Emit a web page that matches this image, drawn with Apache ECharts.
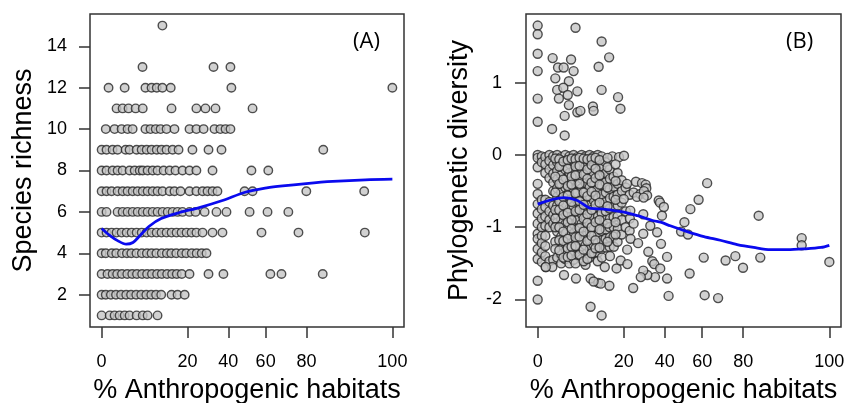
<!DOCTYPE html>
<html>
<head>
<meta charset="utf-8">
<script src="https://cdn.jsdelivr.net/npm/echarts@6/dist/echarts.min.js"></script>
<style>html,body{margin:0;padding:0;background:#fff;}#c{width:846px;height:403px;}</style>
</head>
<body>
<div id="c"></div>
<script>
// ---------- Data (x = % anthropogenic habitats) ----------
const xTicks = [0, 20, 40, 60, 80, 100];
const yTicksA = [2, 4, 6, 8, 10, 12, 14];
const yTicksB = [-2, -1, 0, 1];

// Panel A: species richness rows (value -> list of % anthropogenic habitats)
const richness15 = [10.4];
const richness13 = [4.8, 32.3, 41.1];
const richness12 = [0.14, 1.54, 5.5, 7.1, 8.6, 10.4, 13.3, 41.6, 100];
const richness11 = [0.65, 1.28, 2.1, 3.34, 4.85, 13.6, 24, 28.3, 33.3, 53];
const richness10 = [0.05, 0.49, 1.16, 1.95, 2.78, 5.5, 6.8, 8.3, 9.8, 11.8, 14.7, 20.9, 24, 27.4, 32.8, 35.8, 38.5, 41.1];
const richness9 = [0, 0.07, 0.35, 0.74, 1.67, 2.26, 3.53, 4.6, 5.8, 7.1, 8.6, 10.1, 11.8, 14, 16.3, 22.2, 29.8, 36.4, 86.7];
const richness8 = [0, 0.07, 0.35, 0.74, 1.28, 2.26, 3.15, 4.17, 4.85, 6.04, 7.4, 8.85, 10.8, 12.9, 15.1, 17.9, 20.9, 24, 31.8, 52.4, 61.4];
const richness7 = [0, 0.07, 0.29, 0.74, 1.28, 1.95, 2.78, 3.74, 4.85, 6.04, 7.4, 8.85, 10.45, 12.9, 14.7, 17.1, 20.9, 24, 26.9, 29.3, 31.8, 34.3, 48.7, 53, 79.9, 97.7];
const richness6 = [0, 0.07, 0.74, 1.28, 1.95, 2.78, 3.74, 4.85, 6.04, 7.4, 8.85, 10.45, 12.2, 14, 15.9, 17.9, 20.9, 23.6, 27.9, 33.8, 39, 51.4, 61, 71.6];
const richness5 = [0, 0.07, 0.29, 0.65, 1.16, 1.81, 2.6, 3.53, 4.61, 5.8, 7.12, 8.56, 10.1, 11.8, 13.6, 15.5, 17.5, 19.6, 21.8, 24, 26.9, 31.8, 36.9, 57.8, 76.4, 97.8];
const richness4 = [0, 0.05, 0.3, 0.62, 1.2, 1.85, 2.55, 3.5, 4.65, 5.85, 7.1, 8.5, 10.2, 11.9, 13.5, 15.4, 17.6, 19.5, 21.9, 24.1, 26.5, 28.8];
const richness3 = [0, 0.1, 0.35, 0.7, 1.2, 1.9, 2.7, 3.6, 4.7, 5.9, 7.2, 8.7, 10.2, 12, 13.8, 15.6, 17.6, 20.9, 29.8, 37.4, 62.5, 68.2, 86.5];
const richness2 = [0, 0.05, 0.25, 0.6, 1.1, 1.75, 2.5, 3.45, 4.5, 5.7, 7, 8.4, 10, 13.6, 15.9, 18.8];
const richness1 = [0, 0.19, 0.49, 0.94, 1.54, 2.26, 3.53, 4.85, 6.04, 8.85];

// Panel A smoother
const loessAPct = [0, 0.19, 0.78, 1.75, 2.84, 4.17, 6.55, 10, 16.7, 25.4, 36.9, 49, 60.6, 68.8, 79.8, 90, 97.9, 100];
const loessAVal = [5.2, 4.87, 4.6, 4.44, 4.52, 4.84, 5.32, 5.68, 5.97, 6.21, 6.55, 6.95, 7.16, 7.26, 7.37, 7.47, 7.55, 7.58];

// Panel B: phylogenetic diversity points [% anthropogenic, PD]
const pdAbove = [[0,1.79],[0,1.67],[4.1,1.76],[11.4,1.57],[14.1,1.35],[0,1.40],[0.65,1.34],[3.2,1.32],[0,1.16],[1.2,1.21],[1.95,1.21],[3.7,1.16],[10.4,1.22],[0.9,1.06],[2.8,1.02],[1.1,0.90],[1.9,0.93],[2.6,0.83],[4.5,0.88],[1.3,0.78],[11.4,0.90],[17.6,0.80],[0,0.78],[2.8,0.69],[4.5,0.59],[5.2,0.61],[8.6,0.67],[8.8,0.61],[18.6,0.64],[2.1,0.54],[0,0.46],[0.6,0.36],[2.1,0.27]];
const pdCore = [
 [0,0],[0,-0.04],[0,-0.17],[0,-0.40],[0,-0.54],[0,-0.68],[0,-0.81],[0,-0.95],[0,-1.09],[0,-1.16],[0,-1.30],[0,-1.44],
 [0.05,-0.02],[0.05,-0.10],[0.05,-0.62],[0.05,-0.75],[0.05,-0.88],[0.05,-1.00],[0.05,-1.12],[0.05,-1.22],[0.05,-1.35],[0.05,-1.48],
 [0.17,-0.03],[0.17,-0.13],[0.17,-0.25],[0.17,-0.62],[0.17,-0.72],[0.17,-0.85],[0.17,-0.98],[0.17,-1.12],[0.17,-1.26],[0.17,-1.40],[0.19,-1.55],
 [0.4,0],[0.4,-0.08],[0.4,-0.20],[0.4,-0.32],[0.4,-0.65],[0.4,-0.78],[0.4,-0.90],[0.4,-1.00],[0.4,-1.47],
 [0.7,-0.02],[0.7,-0.14],[0.7,-0.26],[0.7,-0.38],[0.7,-0.50],[0.7,-0.70],[0.7,-0.83],[0.7,-0.95],[0.7,-1.45],[0.62,-1.55],
 [1.1,0],[1.1,-0.10],[1.1,-0.22],[1.1,-0.34],[1.1,-0.46],[1.1,-0.58],[1.1,-0.70],[1.1,-0.82],[1.1,-0.94],[1.1,-1.06],[1.1,-1.42],
 [1.6,-0.03],[1.6,-0.15],[1.6,-0.28],[1.6,-0.40],[1.6,-0.52],[1.6,-0.64],[1.6,-0.77],[1.6,-0.89],[1.6,-1.01],[1.6,-1.13],[1.6,-1.25],[1.6,-1.37],[1.6,-1.50],
 [2.2,0],[2.3,-0.08],[2.2,-0.20],[2.3,-0.33],[2.2,-0.45],[2.3,-0.57],[2.2,-0.70],[2.3,-0.82],[2.2,-0.96],[2.3,-1.08],[2.2,-1.20],[2.3,-1.32],[2.2,-1.44],[2.0,-1.66],
 [2.9,-0.02],[3.0,-0.13],[2.9,-0.25],[3.0,-0.37],[2.9,-0.50],[3.0,-0.62],[2.9,-0.74],[3.0,-0.86],[2.9,-0.99],[3.0,-1.11],[2.9,-1.23],[3.0,-1.36],[2.9,-1.50],
 [3.7,0],[3.8,-0.10],[3.7,-0.22],[3.8,-0.34],[3.7,-0.47],[3.8,-0.59],[3.7,-0.71],[3.8,-0.84],[3.7,-0.96],[3.8,-1.08],[3.7,-1.20],[3.8,-1.33],[3.7,-1.45],
 [4.5,-0.03],[4.6,-0.16],[4.5,-0.28],[4.6,-0.40],[4.5,-0.52],[4.6,-0.65],[4.5,-0.77],[4.6,-0.90],[4.5,-1.02],[4.6,-1.14],[4.5,-1.27],[4.6,-1.39],[4.2,-1.71],
 [5.5,0],[5.6,-0.09],[5.5,-0.21],[5.6,-0.33],[5.5,-0.46],[5.6,-0.58],[5.5,-0.70],[5.6,-0.82],[5.5,-0.95],[5.6,-1.07],[5.5,-1.19],[5.6,-1.32],[5.5,-1.44],
 [6.5,-0.02],[6.6,-0.14],[6.5,-0.26],[6.6,-0.39],[6.5,-0.51],[6.6,-0.63],[6.5,-0.76],[6.6,-0.88],[6.5,-1.00],[6.6,-1.12],[6.5,-1.25],[6.6,-1.37],[6.5,-1.52],
 [7.6,0],[7.7,-0.08],[7.6,-0.20],[7.7,-0.32],[7.6,-0.45],[7.7,-0.57],[7.6,-0.70],[7.7,-0.82],[7.6,-0.94],[7.7,-1.06],[7.6,-1.18],[7.7,-1.30],[7.6,-1.42],[7.9,-1.71],
 [8.8,-0.02],[8.9,-0.13],[8.8,-0.26],[8.9,-0.38],[8.8,-0.50],[8.9,-0.63],[8.8,-0.75],[8.9,-0.87],[8.8,-1.00],[8.9,-1.12],[8.8,-1.24],[8.9,-1.36],
 [10.1,0],[10.2,-0.10],[10.1,-0.22],[10.2,-0.35],[10.1,-0.47],[10.2,-0.60],[10.1,-0.72],[10.2,-0.85],[10.1,-0.97],[10.2,-1.10],[10.1,-1.22],[10.2,-1.35],[10.1,-1.47],[10.3,-1.77],
 [11.4,-0.02],[11.5,-0.16],[11.4,-0.30],[11.5,-0.42],[11.4,-0.55],[11.5,-0.68],[11.4,-0.80],[11.5,-0.93],[11.4,-1.05],[11.5,-1.18],[11.4,-1.30],[11.5,-1.42],
 [12.8,-0.10],[12.9,-0.25],[12.8,-0.38],[12.9,-0.52],[12.8,-0.65],[12.9,-0.78],[12.8,-0.90],[12.9,-1.03],[12.8,-1.16],[12.9,-1.28],[12.5,-1.55],
 [14.3,-0.20],[14.4,-0.33],[14.3,-0.47],[14.4,-0.60],[14.3,-0.74],[14.4,-0.88],[14.3,-1.00],[14.4,-1.14],[14.3,-1.27],[14.4,-1.40],[14.2,-1.81],
 [15.3,-0.02],[15.8,-0.30],[15.9,-0.44],[15.8,-0.58],[15.9,-0.72],[15.8,-0.86],[15.9,-1.00],[15.8,-1.13],[15.9,-1.27],
 [18.0,-0.03],[17.4,-0.25],[17.5,-0.40],[17.4,-0.55],[17.5,-0.70],[17.4,-0.85],[17.5,-1.02],[17.4,-1.20],[17.0,-1.57],
 [20.1,-0.01],[19.1,-0.35],[19.2,-0.50],[19.1,-0.66],[19.2,-0.90],[19.1,-1.10],[18.7,-1.46],
 [20.8,-0.45],[20.9,-0.78],[20.8,-1.00],[21.6,-1.51],[22.6,-0.55],[22.7,-0.88],[22.6,-1.05]
];
const pdCoreFill = [
 [0.9,-0.05],[0.9,-0.30],[0.9,-0.52],[0.9,-0.76],[0.9,-0.88],[0.9,-1.00],[0.9,-1.20],[0.9,-1.30],
 [1.35,-0.06],[1.35,-0.16],[1.35,-0.40],[1.35,-0.64],[1.35,-0.76],[1.35,-1.00],[1.35,-1.18],[1.35,-1.32],
 [1.9,-0.09],[1.9,-0.34],[1.9,-0.58],[1.9,-0.70],[1.9,-0.83],[1.9,-1.06],[1.9,-1.19],[1.9,-1.42],
 [2.6,-0.07],[2.6,-0.19],[2.6,-0.43],[2.6,-0.56],[2.6,-0.80],[2.6,-0.93],[2.6,-1.16],[2.6,-1.29],[2.6,-1.41],
 [3.3,-0.05],[3.3,-0.30],[3.3,-0.41],[3.3,-0.65],[3.3,-0.90],[3.3,-1.02],[3.3,-1.27],[3.3,-1.39],
 [4.1,-0.06],[4.1,-0.16],[4.1,-0.28],[4.1,-0.53],[4.1,-0.78],[4.1,-1.14],[4.1,-1.26],[4.1,-1.50],
 [5.0,-0.04],[5.0,-0.15],[5.0,-0.40],[5.0,-0.64],[5.0,-0.76],[5.0,-1.01],[5.0,-1.13],[5.0,-1.38],
 [6.0,-0.05],[6.0,-0.27],[6.0,-0.52],[6.0,-0.69],[6.0,-0.88],[6.0,-1.06],[6.0,-1.31],[6.0,-1.47],
 [7.0,-0.06],[7.0,-0.20],[7.0,-0.33],[7.0,-0.57],[7.0,-0.82],[7.0,-0.94],[7.0,-1.19],[7.0,-1.44],
 [8.2,-0.05],[8.2,-0.14],[8.2,-0.38],[8.2,-0.51],[8.2,-0.76],[8.2,-1.00],[8.2,-1.12],[8.2,-1.36],
 [9.4,-0.04],[9.4,-0.19],[9.4,-0.32],[9.4,-0.56],[9.4,-0.69],[9.4,-0.93],[9.4,-1.18],[9.4,-1.29],
 [10.7,-0.07],[10.7,-0.28],[10.7,-0.41],[10.7,-0.66],[10.7,-0.90],[10.7,-1.03],[10.7,-1.28],
 [13.5,-0.04],[13.5,-0.17],[13.5,-0.45],[13.5,-0.71],[13.5,-0.95],[13.5,-1.20],
 [16.6,-0.13],[16.6,-0.36],[16.6,-0.62],[16.6,-0.93],[16.6,-1.10]
];
const pdSpread = [[21.4,-0.40],[25.5,-0.37],[28.4,-0.39],[30.2,-0.41],[30.5,-0.46],[24.4,-0.52],[27.6,-0.54],[29.3,-0.50],[30.9,-0.56],[26.0,-0.58],[29.2,-0.59],[20.0,-0.61],[36.8,-0.63],[37.5,-0.66],[39.5,-0.72],[38.5,-0.84],[29.0,-0.82],[24.4,-0.95],[22.9,-0.77],[32.5,-0.98],[50.5,-0.93],[53.7,-0.75],[58.1,-0.62],[62.6,-0.39],[86.2,-0.84],
 [48.7,-1.06],[52.4,-1.10],[36.0,-1.07],[29.0,-1.09],[23.0,-1.16],[26.5,-1.22],[21.5,-1.31],[31.5,-1.34],[38.0,-1.23],[41.2,-1.41],[33.5,-1.47],[34.5,-1.51],[37.6,-1.57],[41.2,-1.71],[34.9,-1.69],[31.0,-1.66],[29.0,-1.60],[27.8,-1.69],[24.2,-1.84],[42.0,-1.95],[53.3,-1.64],[60.8,-1.42]];
const pdFar = [[97.8,-1.15],[97.8,-1.25],[100,-1.48],[71.9,-1.46],[76.5,-1.40],[79.9,-1.56],[86.8,-1.42],[61.3,-1.94],[68.2,-1.98]];
const pdLow = [[0,-1.74],[0,-2.00],[7.9,-2.10],[11.4,-2.22],[0.19,-1.55],[11.1,-1.78],[8.8,-1.75]];

// Panel B smoother
const loessBPct = [0, 1.98, 4.5, 7.9, 12.1, 16, 21.4, 26.2, 34.1, 37.8, 42.9, 52, 60.9, 69.3, 77.3, 84.3, 90.3, 95, 98.1, 99.8, 100];
const loessBVal = [-0.68, -0.59, -0.63, -0.74, -0.75, -0.77, -0.80, -0.84, -0.91, -0.93, -0.98, -1.06, -1.13, -1.18, -1.24, -1.28, -1.31, -1.31, -1.30, -1.28, -1.25];

// ---------- Build ----------
const asinSqrt = p => Math.asin(Math.sqrt(p / 100));
const HALF_PI = Math.PI / 2;
const X_MIN = -0.04 * HALF_PI, X_MAX = 1.04 * HALF_PI;
const FONT = '"Liberation Sans", Arial, Helvetica, sans-serif';

const richRows = [[1,richness1],[2,richness2],[3,richness3],[4,richness4],[5,richness5],[6,richness6],[7,richness7],[8,richness8],[9,richness9],[10,richness10],[11,richness11],[12,richness12],[13,richness13],[15,richness15]];
const dataA = [];
richRows.forEach(([v, arr]) => arr.forEach(p => dataA.push([asinSqrt(p), v])));
const dataB = [].concat(pdCore, pdCoreFill, pdAbove, pdSpread, pdFar, pdLow).map(d => [asinSqrt(d[0]), d[1]]);
const lineA = loessAPct.map((p, i) => [asinSqrt(p), loessAVal[i]]);
const lineB = loessBPct.map((p, i) => [asinSqrt(p), loessBVal[i]]);
const xTickVals = xTicks.map(asinSqrt);

function xAxis(gi) {
  return {
    type: 'value', gridIndex: gi, min: X_MIN, max: X_MAX, position: 'bottom',
    name: '% Anthropogenic habitats', nameLocation: 'middle', nameGap: 50,
    nameTextStyle: { fontSize: 27, color: '#000', fontFamily: FONT },
    axisLine: { show: false, onZero: false },
    axisTick: { show: true, length: 11, customValues: xTickVals, lineStyle: { color: '#333', width: 1.5 } },
    axisLabel: { customValues: xTickVals, formatter: v => String(Math.round(100 * Math.pow(Math.sin(v), 2))), fontSize: 18, color: '#000', fontFamily: FONT, margin: 26 },
    splitLine: { show: false }
  };
}
function yAxis(gi, name, min, max, ticks, gap, margin) {
  return {
    type: 'value', gridIndex: gi, min: min, max: max, position: 'left',
    name: name, nameLocation: 'middle', nameGap: gap, nameRotate: 90,
    nameTextStyle: { fontSize: 27, color: '#000', fontFamily: FONT },
    axisLine: { show: false, onZero: false },
    axisTick: { show: true, length: 11, customValues: ticks, lineStyle: { color: '#333', width: 1.5 } },
    axisLabel: { customValues: ticks, fontSize: 18, color: '#000', fontFamily: FONT, margin: margin },
    splitLine: { show: false }
  };
}
const pointStyle = { color: '#c6c6c6', borderColor: '#262626', borderWidth: 1.4 };
const lineStyle = { color: '#0a0aee', width: 2.8 };

const chart = echarts.init(document.getElementById('c'), null, { renderer: 'canvas' });
chart.setOption({
  animation: false,
  backgroundColor: '#fff',
  grid: [
    { left: 90, top: 14, width: 314, height: 313, outerBoundsMode: 'none', containLabel: false, show: true, borderColor: '#333', borderWidth: 1.5, backgroundColor: 'transparent' },
    { left: 526, top: 14, width: 315, height: 313, outerBoundsMode: 'none', containLabel: false, show: true, borderColor: '#333', borderWidth: 1.5, backgroundColor: 'transparent' }
  ],
  xAxis: [xAxis(0), xAxis(1)],
  yAxis: [
    yAxis(0, 'Species richness', 0.44, 15.56, yTicksA, 53, 23),
    yAxis(1, 'Phylogenetic diversity', -2.38, 1.95, yTicksB, 53, 24)
  ],
  series: [
    { type: 'scatter', xAxisIndex: 0, yAxisIndex: 0, data: dataA, symbol: 'circle', symbolSize: 8.5, itemStyle: pointStyle, z: 2 },
    { type: 'line', xAxisIndex: 0, yAxisIndex: 0, data: lineA, smooth: 0.3, showSymbol: false, lineStyle: lineStyle, z: 5 },
    { type: 'scatter', xAxisIndex: 1, yAxisIndex: 1, data: dataB, symbol: 'circle', symbolSize: 9, itemStyle: pointStyle, z: 2 },
    { type: 'line', xAxisIndex: 1, yAxisIndex: 1, data: lineB, smooth: 0.3, showSymbol: false, lineStyle: lineStyle, z: 5 }
  ],
  graphic: [
    { type: 'text', left: 353, top: 31, style: { text: '(A)', fontSize: 22, fill: '#000', fontFamily: '"Open Sans", sans-serif' } },
    { type: 'text', left: 786, top: 31, style: { text: '(B)', fontSize: 22, fill: '#000', fontFamily: '"Open Sans", sans-serif' } }
  ]
});
</script>
</body>
</html>
